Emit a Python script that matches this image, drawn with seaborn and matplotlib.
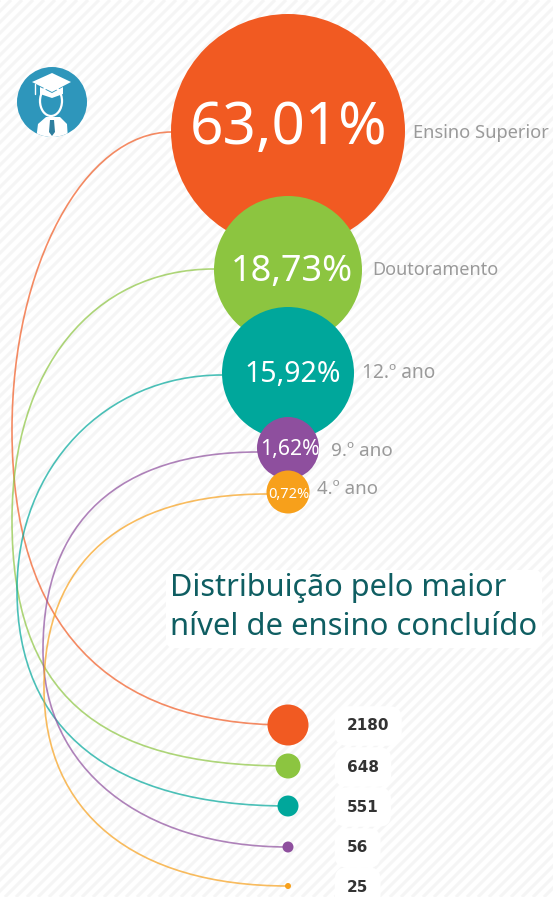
import numpy as np
import pandas as pd
import seaborn as sns
import matplotlib
matplotlib.use("Agg")
import matplotlib.pyplot as plt
from matplotlib.path import Path
from matplotlib.patches import PathPatch, Polygon, Circle, FancyBboxPatch, Ellipse

sns.set_theme(style="white")
plt.rcParams['font.family'] = ['Noto Sans', 'DejaVu Sans']

levels = ["Ensino Superior", "Doutoramento", "12.º ano", "9.º ano", "4.º ano"]
percent_labels = ["63,01%", "18,73%", "15,92%", "1,62%", "0,72%"]
counts = [2180, 648, 551, 56, 25]
colors = ["#f15a22", "#8cc540", "#00a79b", "#8e4f9e", "#f7a01b"]

W, H = 553, 897
fig = plt.figure(figsize=(W/100, H/100), dpi=100)
ax = fig.add_axes([0, 0, 1, 1])
ax.set_xlim(0, W); ax.set_ylim(H, 0); ax.axis("off")

for c in np.arange(-H, W + H, 11):
    ax.plot([c, c + H], [H, 0], color="#f5f5f5", lw=2.2, zorder=0, solid_capstyle="butt")

px2 = lambda d: (d * 0.72) ** 2

top_x = 288
top_y = [131, 270, 373, 448, 492]
top_d = [234, 148, 132, 62, 43]
bot_x = 288
bot_y = [725, 766, 806, 847, 886]
bot_d = [41, 25, 21, 11, 6]
curve_x0 = [172, 214, 222, 258, 267]
curve_y0 = [132, 269, 375, 452, 494]
curve_xm = [12, 12, 17, 43, 44]
curve_ym = [430, 520, 590, 650, 688]
curve_ku = [0.55, 0.60, 0.57, 0.65, 0.65]
curve_kl = [0.66, 0.70, 0.65, 0.60, 0.63]

df_top = pd.DataFrame(dict(x=[top_x]*5, y=top_y, level=levels, s=[px2(d) for d in top_d]))
df_bot = pd.DataFrame(dict(x=[bot_x]*5, y=bot_y, level=levels, s=[px2(d) for d in bot_d]))
pal = dict(zip(levels, colors))

for x0, y0, xm, ym, ku, kl, by, col in zip(curve_x0, curve_y0, curve_xm, curve_ym, curve_ku, curve_kl, bot_y, colors):
    bx = bot_x
    verts = [(x0, y0), (x0 - (x0-xm)*ku, y0), (xm, ym - (ym-y0)*ku), (xm, ym),
             (xm, ym + (by-ym)*kl), (bx - (bx-xm)*kl, by), (bx, by)]
    codes = [Path.MOVETO] + [Path.CURVE4]*6
    ax.add_patch(PathPatch(Path(verts, codes), fc="none", ec=col, lw=1.2, alpha=0.7, zorder=2))

sns.scatterplot(data=df_top, x="x", y="y", hue="level", palette=pal, size="level",
                sizes=dict(zip(levels, df_top.s)), legend=False, linewidth=0, ax=ax, zorder=3, alpha=1)
sns.scatterplot(data=df_bot, x="x", y="y", hue="level", palette=pal, size="level",
                sizes=dict(zip(levels, df_bot.s)), legend=False, linewidth=0, ax=ax, zorder=3, alpha=1)
ax.set_xlim(0, W); ax.set_ylim(H, 0); ax.axis("off")

pct_fs = [42, 26, 20.5, 15.3, 10.5]
pct_x = [289, 292, 293, 290, 289]
pct_y = [128, 272, 374, 449, 494]
for p, x, y, fs in zip(percent_labels, pct_x, pct_y, pct_fs):
    ax.text(x, y, p, color="white", fontsize=fs, ha="center", va="center", zorder=5)

lab_x = [413, 372, 362, 331, 317]
lab_y = [133, 270, 373, 451, 489]
lab_fs = [13.2, 13, 13.8, 13.6, 13.4]
for t, x, y, fs in zip(levels, lab_x, lab_y, lab_fs):
    ax.text(x, y, t, color="#9a9a9a", fontsize=fs, ha="left", va="center", zorder=5)

ax.add_patch(FancyBboxPatch((168, 572), 372, 74, boxstyle="round,pad=2,rounding_size=8", fc="white", ec="none", zorder=4))
ax.text(170, 588, "Distribuição pelo maior", color="#0f5e62", fontsize=22.1, ha="left", va="center", zorder=5)
ax.text(170, 627, "nível de ensino concluído", color="#0f5e62", fontsize=22.3, ha="left", va="center", zorder=5)

for n, y in zip(counts, bot_y):
    ax.text(347, y + 1, str(n), color="#333333", fontsize=11, fontweight="bold", family="DejaVu Sans",
            ha="left", va="center", zorder=5,
            bbox=dict(boxstyle="round,pad=0.8,rounding_size=0.8", fc="white", ec="none"))

disc = Circle((52, 102), 35, fc="#2e96bb", ec="none", zorder=3)
ax.add_patch(disc)
ax.add_patch(Polygon([(32, 82), (52, 73), (71, 82), (52, 92)], fc="white", ec="none", zorder=4))
ax.add_patch(Polygon([(40, 87), (40, 94), (52, 98), (63, 94), (63, 87), (52, 93)], fc="white", ec="none", zorder=4))
ax.plot([35, 35], [84, 94], color="white", lw=1, zorder=4)
ax.add_patch(Ellipse((51, 101), 22, 30, fc="#2e96bb", ec="white", lw=1.6, zorder=3.5))
body = Polygon([(36, 140), (38, 124), (46, 117), (60, 117), (67, 124), (68, 140)], fc="white", ec="none", zorder=4)
ax.add_patch(body)
body.set_clip_path(disc)
tie = Polygon([(50, 120), (54, 120), (55, 132), (52, 136), (49, 132)], fc="#2e7f9f", ec="none", zorder=5)
ax.add_patch(tie)

fig.savefig("out.png", dpi=100)
